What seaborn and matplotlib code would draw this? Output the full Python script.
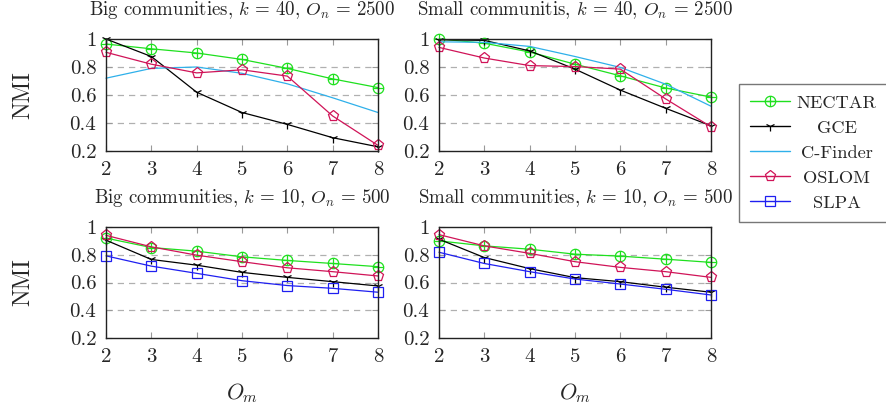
import numpy as np
import pandas as pd
import seaborn as sns
import matplotlib.pyplot as plt
from matplotlib.path import Path
from matplotlib.lines import Line2D

# data
om = [2, 3, 4, 5, 6, 7, 8]

big40_nectar = [0.964, 0.93, 0.90, 0.854, 0.79, 0.715, 0.653]
big40_gce = [1.0, 0.875, 0.62, 0.475, 0.39, 0.295, 0.23]
big40_cfinder = [0.72, 0.79, 0.80, 0.755, 0.68, 0.58, 0.475]
big40_oslom = [0.905, 0.82, 0.758, 0.78, 0.735, 0.45, 0.24]

small40_nectar = [1.0, 0.97, 0.907, 0.82, 0.737, 0.65, 0.585]
small40_gce = [0.995, 0.99, 0.915, 0.785, 0.635, 0.505, 0.38]
small40_cfinder = [0.98, 0.976, 0.947, 0.875, 0.797, 0.677, 0.52]
small40_oslom = [0.94, 0.864, 0.81, 0.803, 0.785, 0.572, 0.373]

big10_nectar = [0.92, 0.852, 0.826, 0.785, 0.759, 0.737, 0.714]
big10_gce = [0.905, 0.766, 0.725, 0.673, 0.637, 0.606, 0.575]
big10_oslom = [0.94, 0.857, 0.797, 0.75, 0.706, 0.678, 0.647]
big10_slpa = [0.792, 0.718, 0.666, 0.613, 0.578, 0.558, 0.53]

small10_nectar = [0.90, 0.864, 0.84, 0.804, 0.79, 0.768, 0.745]
small10_gce = [0.912, 0.78, 0.70, 0.635, 0.606, 0.566, 0.53]
small10_oslom = [0.945, 0.864, 0.81, 0.75, 0.709, 0.678, 0.637]
small10_slpa = [0.818, 0.737, 0.678, 0.625, 0.589, 0.551, 0.51]

methods = ["NECTAR", "GCE", "C-Finder", "OSLOM", "SLPA"]
titles = [r"Big communities, $k\,=\,40$, $O_n\,=\,2500$",
          r"Small communitis, $k\,=\,40$, $O_n\,=\,2500$",
          r"Big communities, $k\,=\,10$, $O_n\,=\,500$",
          r"Small communities, $k\,=\,10$, $O_n\,=\,500$"]

panels = [
    {"NECTAR": big40_nectar, "GCE": big40_gce, "C-Finder": big40_cfinder, "OSLOM": big40_oslom},
    {"NECTAR": small40_nectar, "GCE": small40_gce, "C-Finder": small40_cfinder, "OSLOM": small40_oslom},
    {"NECTAR": big10_nectar, "GCE": big10_gce, "OSLOM": big10_oslom, "SLPA": big10_slpa},
    {"NECTAR": small10_nectar, "GCE": small10_gce, "OSLOM": small10_oslom, "SLPA": small10_slpa},
]

# circle with a plus inside (pgfplots oplus)
oplus = Path.make_compound_path(
    Path.unit_circle(),
    Path([[-1, 0], [1, 0], [0, -1], [0, 1]],
         [Path.MOVETO, Path.LINETO, Path.MOVETO, Path.LINETO]))

styles = {
    "NECTAR": dict(color="#1ee01e", marker=oplus, ms=7.5),
    "GCE": dict(color="black", marker="1", ms=7),
    "C-Finder": dict(color="#2fb0ea", marker=None, ms=0),
    "OSLOM": dict(color="#d01458", marker="p", ms=8),
    "SLPA": dict(color="#1f1ff0", marker="s", ms=7.5),
}

sns.set_style("white")
plt.rcParams["font.family"] = ["cmr10", "DejaVu Serif"]
plt.rcParams["mathtext.fontset"] = "cm"
plt.rcParams["axes.formatter.use_mathtext"] = True

W, H = 886, 408
fig = plt.figure(figsize=(W / 100, H / 100), dpi=100)

# axes boxes in pixels: left, right, top, bottom
boxes = [(106, 378, 39, 151), (439, 711, 39, 151),
         (106, 378, 227, 338), (439, 711, 227, 338)]

for i, (data, (l, r, t, b)) in enumerate(zip(panels, boxes)):
    ax = fig.add_axes([l / W, 1 - b / H, (r - l) / W, (b - t) / H])
    df = pd.DataFrame({"Om": om, **data})
    for m in methods:
        if m not in data:
            continue
        st = styles[m]
        kw = dict(color=st["color"], linewidth=0.9, clip_on=False)
        if st["marker"] is not None:
            kw.update(marker=st["marker"], markersize=st["ms"],
                      markerfacecolor="none", markeredgecolor=st["color"],
                      markeredgewidth=0.9)
        sns.lineplot(data=df, x="Om", y=m, ax=ax, **kw)
    ax.set_xlim(2, 8)
    ax.set_ylim(0.2, 1.0)
    ax.set_xticks(om)
    ax.set_xticklabels([str(v) for v in om])
    ax.set_yticks([0.2, 0.4, 0.6, 0.8, 1.0])
    ax.set_yticklabels(["0.2", "0.4", "0.6", "0.8", "1"])
    for yv in [0.4, 0.6, 0.8]:
        ax.axhline(yv, color="#b0b0b0", linestyle=(0, (5, 4)), linewidth=0.9, zorder=0)
    ax.tick_params(axis="both", direction="in", length=4, color="#999999",
                   top=True, right=True, bottom=True, left=True,
                   labelsize=15, pad=7)
    for s in ax.spines.values():
        s.set_color("#222222")
        s.set_linewidth(1.0)
    ax.set_title(titles[i], fontsize=13.6, pad=17)
    ax.set_xlabel("")
    ax.set_ylabel("")
    if i % 2 == 0:
        ax.set_ylabel("NMI", fontsize=17, labelpad=25)
    if i >= 2:
        ax.set_xlabel(r"$O_m$", fontsize=16, labelpad=11)

handles = []
for m in methods:
    st = styles[m]
    handles.append(Line2D([], [], color=st["color"], linewidth=1.0,
                          marker=st["marker"], markersize=st["ms"],
                          markerfacecolor="none", markeredgecolor=st["color"],
                          markeredgewidth=0.9))
leg = fig.legend(handles, methods, loc="upper left",
                 bbox_to_anchor=(739 / W, 1 - 84 / H), fontsize=13.2,
                 frameon=True, fancybox=False, edgecolor="#555555",
                 handlelength=2.2, handletextpad=0.35, labelspacing=0.5,
                 borderpad=0.6, numpoints=1, borderaxespad=0)
leg.get_frame().set_linewidth(1.0)

# center the legend texts like pgfplots does
renderer = fig.canvas.get_renderer()
widths = [t.get_window_extent(renderer).width for t in leg.get_texts()]
shift = max(widths)
for t, w in zip(leg.get_texts(), widths):
    t.set_position(((shift - w) / 2, 0))

fig.savefig("out.png", dpi=100)
